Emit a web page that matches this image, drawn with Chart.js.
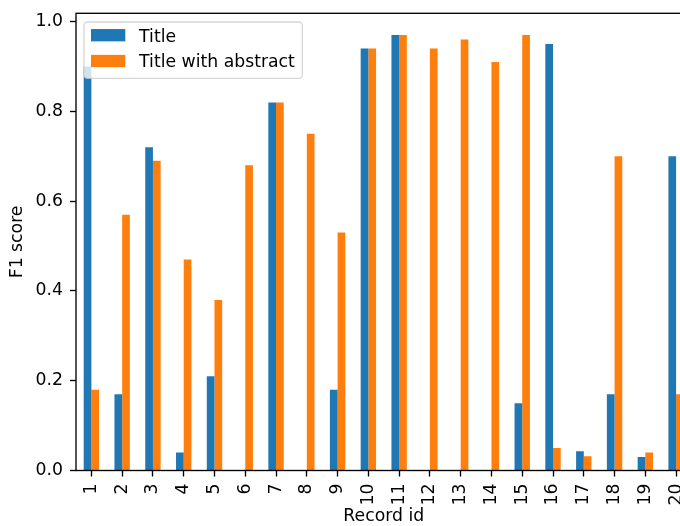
<!DOCTYPE html>
<html>
<head>
<meta charset="utf-8">
<script src="https://cdn.jsdelivr.net/npm/chart.js@4"></script>
<style>
html, body { margin: 0; padding: 0; overflow: hidden; background: #fff; }
#wrap { width: 700px; height: 530px; }
</style>
</head>
<body>
<div id="wrap"><canvas id="chart" width="700" height="530"></canvas></div>
<script>
const recordIds = ["1", "2", "3", "4", "5", "6", "7", "8", "9", "10",
                   "11", "12", "13", "14", "15", "16", "17", "18", "19", "20"];
const titleScores = [0.90, 0.17, 0.72, 0.04, 0.21, 0, 0.82, 0, 0.18, 0.94,
                     0.97, 0, 0, 0, 0.15, 0.95, 0.043, 0.17, 0.03, 0.70];
const abstractScores = [0.18, 0.57, 0.69, 0.47, 0.38, 0.68, 0.82, 0.75, 0.53, 0.94,
                        0.97, 0.94, 0.96, 0.91, 0.97, 0.05, 0.032, 0.70, 0.04, 0.17];
const yTickValues = [0, 0.2, 0.4, 0.6, 0.8, 1.0];
const seriesNames = ["Title", "Title with abstract"];
const seriesColors = ["#1f77b4", "#ff7f0e"];
const yMax = 1.0185;

const FONT_SIZE = 17.25;
Chart.defaults.font.family = "'DejaVu Sans'";
Chart.defaults.font.size = FONT_SIZE;
Chart.defaults.color = "#000";

// no automatic label padding, the layout padding decides the plot box
function noPadding(scale) {
    scale.paddingTop = 0;
    scale.paddingBottom = 0;
    scale.paddingLeft = 0;
    scale.paddingRight = 0;
}

// axes frame (all four spines, like matplotlib)
const framePlugin = {
    id: "frame",
    afterDatasetsDraw(chart) {
        const { ctx, chartArea: a } = chart;
        ctx.save();
        ctx.strokeStyle = "#000";
        ctx.lineWidth = 1.35;
        ctx.strokeRect(a.left, a.top, a.right - a.left, a.bottom - a.top);
        ctx.restore();
    }
};

// boxed legend in the upper left corner
const boxLegend = {
    id: "boxLegend",
    afterDraw(chart) {
        const ctx = chart.ctx;
        const x0 = chart.chartArea.left + 8;
        const y0 = chart.chartArea.top + 8.7;
        ctx.save();
        ctx.font = FONT_SIZE + "px 'DejaVu Sans'";
        const textW = Math.max(...chart.data.datasets.map(d => ctx.measureText(d.label).width));
        const w = 7 + 34.3 + 13.8 + textW + 7.5;
        const h = 56.3;
        ctx.beginPath();
        ctx.roundRect(x0, y0, w, h, 3.5);
        ctx.fillStyle = "rgba(255,255,255,0.8)";
        ctx.fill();
        ctx.strokeStyle = "rgba(204,204,204,0.8)";
        ctx.lineWidth = 1.35;
        ctx.stroke();
        chart.data.datasets.forEach((d, i) => {
            const cy = y0 + 13.2 + i * 25.8;
            ctx.fillStyle = d.backgroundColor;
            ctx.fillRect(x0 + 7, cy - 6.15, 34.3, 12.3);
            ctx.fillStyle = "#000";
            ctx.textBaseline = "alphabetic";
            ctx.fillText(d.label, x0 + 7 + 34.3 + 13.8, cy + 6.3);
        });
        ctx.restore();
    }
};

const chart = new Chart(document.getElementById("chart"), {
    type: "bar",
    data: {
        labels: recordIds,
        datasets: [{
            label: seriesNames[0],
            data: titleScores,
            backgroundColor: seriesColors[0],
            borderWidth: 0,
            categoryPercentage: 0.5,
            barPercentage: 1.0
        }, {
            label: seriesNames[1],
            data: abstractScores,
            backgroundColor: seriesColors[1],
            borderWidth: 0,
            categoryPercentage: 0.5,
            barPercentage: 1.0
        }]
    },
    options: {
        responsive: false,
        animation: false,
        layout: {
            padding: { top: 13.3, right: 8.5, left: 0, bottom: 0 }
        },
        plugins: {
            legend: { display: false },
            tooltip: { enabled: false }
        },
        scales: {
            x: {
                offset: true,
                grid: {
                    offset: false,
                    drawOnChartArea: false,
                    drawTicks: true,
                    tickLength: 6,
                    tickWidth: 1.35,
                    tickColor: "#000"
                },
                border: { display: false },
                ticks: {
                    autoSkip: false,
                    maxRotation: 90,
                    minRotation: 90,
                    padding: 7,
                    color: "#000"
                },
                title: {
                    display: true,
                    text: "Record id",
                    color: "#000",
                    padding: { top: 0, bottom: 3.6 }
                },
                afterFit: (scale) => {
                    scale.height = 530 - 470.5;
                    noPadding(scale);
                }
            },
            y: {
                min: 0,
                max: yMax,
                grid: {
                    drawOnChartArea: false,
                    drawTicks: true,
                    tickLength: 6,
                    tickWidth: 1.35,
                    tickColor: "#000"
                },
                border: { display: false },
                ticks: {
                    padding: 7,
                    color: "#000",
                    callback: (v) => v.toFixed(1)
                },
                afterBuildTicks: (scale) => {
                    scale.ticks = yTickValues.map(v => ({ value: v }));
                },
                title: {
                    display: true,
                    text: "F1 score",
                    color: "#000",
                    padding: { top: 7.6, bottom: 0 }
                },
                afterFit: (scale) => {
                    scale.width = 76;
                    noPadding(scale);
                }
            }
        }
    },
    plugins: [framePlugin, boxLegend]
});
</script>
</body>
</html>
